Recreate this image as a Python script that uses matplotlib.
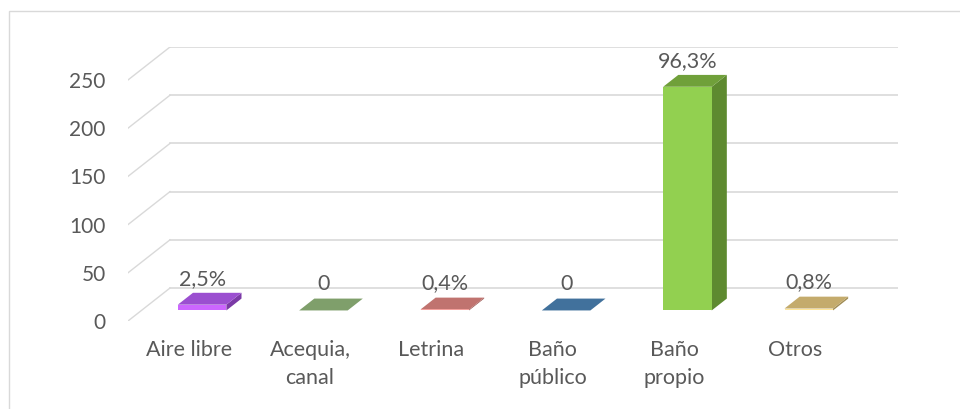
import matplotlib.pyplot as plt
from matplotlib.patches import Polygon, Rectangle

# data
categorias = ["Aire libre", "Acequia,\ncanal", "Letrina", "Baño\npúblico", "Baño\npropio", "Otros"]
valores = [6, 0, 1, 0, 232, 2]
etiquetas = ["2,5%", "0", "0,4%", "0", "96,3%", "0,8%"]
yticks = [0, 50, 100, 150, 200, 250]

# colours per bar: front, top, side
c_front = ["#cc66ff", "#8fb27a", "#f4a09c", "#5b8fc4", "#92d050", "#ffe699"]
c_top = ["#9b4fd0", "#7f9f6b", "#c0736f", "#41719c", "#70a03a", "#c4ab6c"]
c_side = ["#7b3aa6", "#637d52", "#9a5753", "#315a7e", "#5e8a30", "#a08c55"]

plt.rcParams['font.family'] = ['Lato', 'DejaVu Sans']
texto = "#595959"
grid = "#d9d9d9"

fig = plt.figure(figsize=(9.6, 4.09), dpi=100)
fig.patches.append(Rectangle((9 / 960, -0.1), 1.2, (409 - 11) / 409 + 0.1,
                             transform=fig.transFigure, fill=False,
                             edgecolor=grid, linewidth=1.0))

ax = fig.add_axes([128 / 960, (409 - 321) / 409, 770 / 960, 274 / 409])

# oblique depth offset in data units
DX = 42 / 121.33
DY = 33 / 0.965
d0, d1 = 0.32, 0.68
ancho = 0.4
n = len(categorias)

ax.set_xlim(-0.5, n - 0.5 + DX)
ax.set_ylim(0, 250 + DY)

# walls: diagonal side lines and back gridlines
for v in yticks:
    ax.plot([-0.5, -0.5 + DX], [v, v + DY], color=grid, lw=1.0, zorder=1)
    ax.plot([-0.5 + DX, n - 0.5 + DX], [v + DY, v + DY], color=grid, lw=1.2, zorder=1)

x = list(range(n))
for i, v in enumerate(valores):
    xl = x[i] - ancho / 2
    xr = x[i] + ancho / 2
    lado = [(xr + d0 * DX, d0 * DY), (xr + d1 * DX, d1 * DY),
            (xr + d1 * DX, v + d1 * DY), (xr + d0 * DX, v + d0 * DY)]
    tapa = [(xl + d0 * DX, v + d0 * DY), (xr + d0 * DX, v + d0 * DY),
            (xr + d1 * DX, v + d1 * DY), (xl + d1 * DX, v + d1 * DY)]
    ax.add_patch(Polygon(lado, closed=True, facecolor=c_side[i], edgecolor='none', zorder=2))
    ax.add_patch(Polygon(tapa, closed=True, facecolor=c_top[i], edgecolor='none', zorder=3))

ax.bar([xi + d0 * DX for xi in x], valores, width=ancho, bottom=d0 * DY,
       color=c_front, edgecolor='none', zorder=4)

for i, v in enumerate(valores):
    ax.annotate(etiquetas[i], (x[i] + d0 * DX, v + d1 * DY), xytext=(0, 3),
                textcoords='offset points', ha='center', va='bottom',
                fontsize=15.5, color=texto, zorder=5)

ax.set_yticks(yticks)
ax.set_yticklabels([str(t) for t in yticks])
ax.set_xticks(x)
ax.set_xticklabels(categorias, linespacing=1.5)
ax.tick_params(axis='both', length=0, labelcolor=texto)
ax.tick_params(axis='y', pad=16, labelsize=15)
ax.tick_params(axis='x', pad=14, labelsize=15.5)
for s in ax.spines.values():
    s.set_visible(False)
ax.patch.set_alpha(0)

fig.savefig("out.png", dpi=100)
